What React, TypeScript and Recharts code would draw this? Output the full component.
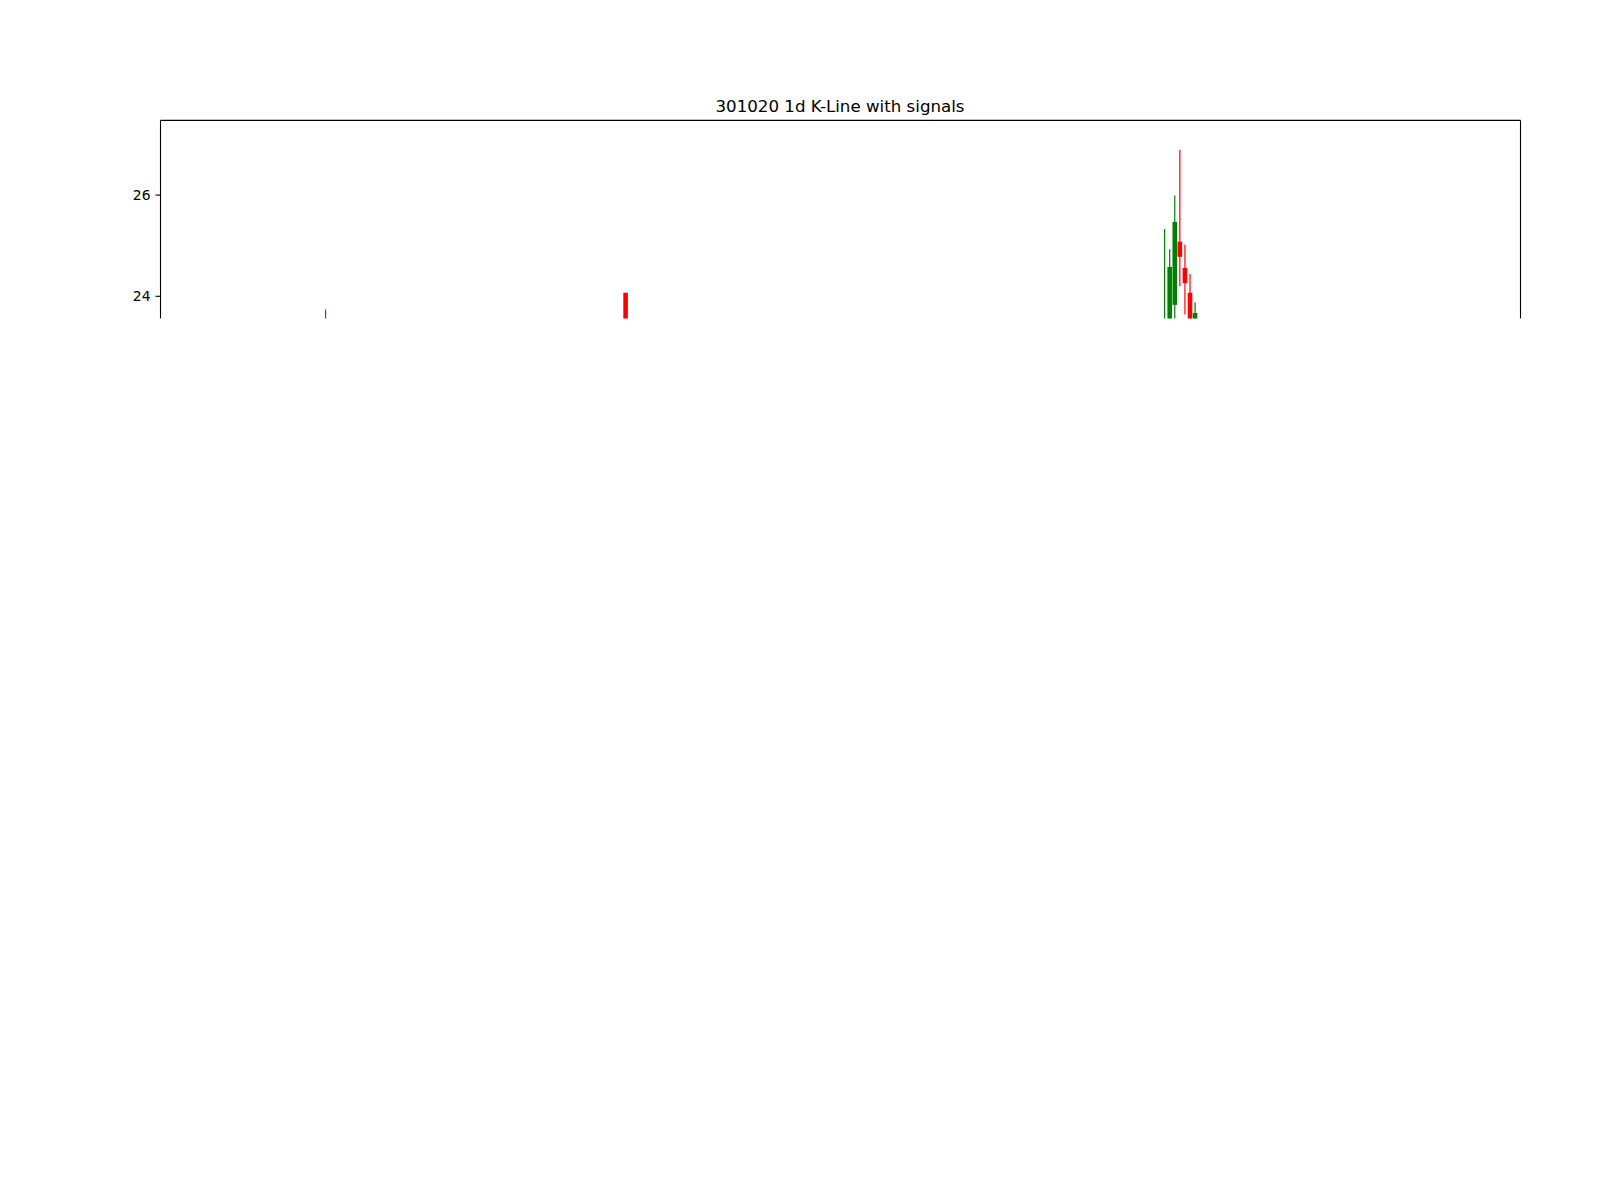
import React from "react";
import { ComposedChart, Bar, XAxis, YAxis, ReferenceLine } from "recharts";

// day index of each candle
const days = [32, 91, 197, 198, 199, 200, 201, 202, 203];
const opens = [23.4, 23.2, 23.5, 24.58, 25.47, 24.78, 24.26, 23.5, 23.67];
const highs = [23.74, 24.07, 25.33, 24.93, 25.99, 26.89, 25.02, 24.44, 23.88];
const lows = [22.8, 23.0, 22.9, 23.0, 23.4, 24.2, 23.64, 23.3, 23.1];
const closes = [23.0, 24.07, 23.1, 23.3, 23.83, 25.08, 24.56, 24.07, 23.3];

const yTicks = [24, 26];
const yDomain = [23.563, 27.476];
const xDomain = [-0.51, 266.94];
const title = "301020 1d K-Line with signals";

const UP = "#ff0000";
const DOWN = "#008000";

const data = days.map((d, i) => ({
  day: d,
  open: opens[i],
  high: highs[i],
  low: lows[i],
  close: closes[i],
  range: [lows[i], highs[i]],
}));

const Candle = (props: any) => {
  const { x, y, width, height } = props;
  const p = props.payload ?? props;
  if (x == null || y == null) return null;
  const top = Math.min(y, y + height);
  const bottom = Math.max(y, y + height);
  const span = p.high - p.low;
  const ppu = span > 0 ? (bottom - top) / span : 0;
  const bodyHi = Math.max(p.open, p.close);
  const bodyLo = Math.min(p.open, p.close);
  const bTop = top + (p.high - bodyHi) * ppu;
  const bBot = top + (p.high - bodyLo) * ppu;
  const color = p.close >= p.open ? UP : DOWN;
  const cx = x + width / 2;
  return (
    <g>
      <line x1={cx} x2={cx} y1={top} y2={bottom} stroke={color} strokeWidth={1.2} />
      <rect x={x} y={bTop} width={width} height={Math.max(bBot - bTop, 0.8)} fill={color} />
    </g>
  );
};

export default function App() {
  return (
    <div style={{ position: "relative", width: 1584, height: 330 }}>
      <svg
        width={1584}
        height={120}
        style={{ position: "absolute", left: 0, top: 0, pointerEvents: "none" }}
      >
        <text
          x={832}
          y={103.9}
          textAnchor="middle"
          fontFamily="DejaVu Sans"
          fontSize={16.67}
          fill="#000"
        >
          {title}
        </text>
      </svg>
      <ComposedChart
        width={1584}
        height={330}
        data={data}
        margin={{ top: 112.4, right: 71.5, bottom: 19.6, left: 92.5 }}
      >
        <XAxis
          dataKey="day"
          type="number"
          domain={xDomain}
          allowDataOverflow
          hide
          height={0}
        />
        <YAxis
          type="number"
          domain={yDomain}
          allowDataOverflow
          ticks={yTicks}
          width={60}
          tickSize={5}
          tickMargin={5}
          axisLine={{ stroke: "#000", strokeWidth: 1.1 }}
          tickLine={{ stroke: "#000", strokeWidth: 1.1 }}
          tick={{ fill: "#000", fontSize: 13.9, fontFamily: "DejaVu Sans" }}
        />
        <Bar
          dataKey="range"
          barSize={5.3}
          shape={<Candle />}
          isAnimationActive={false}
        />
        <ReferenceLine y={yDomain[1]} stroke="#000" strokeWidth={1.1} />
        <ReferenceLine x={xDomain[1]} stroke="#000" strokeWidth={1.1} />
      </ComposedChart>
    </div>
  );
}
